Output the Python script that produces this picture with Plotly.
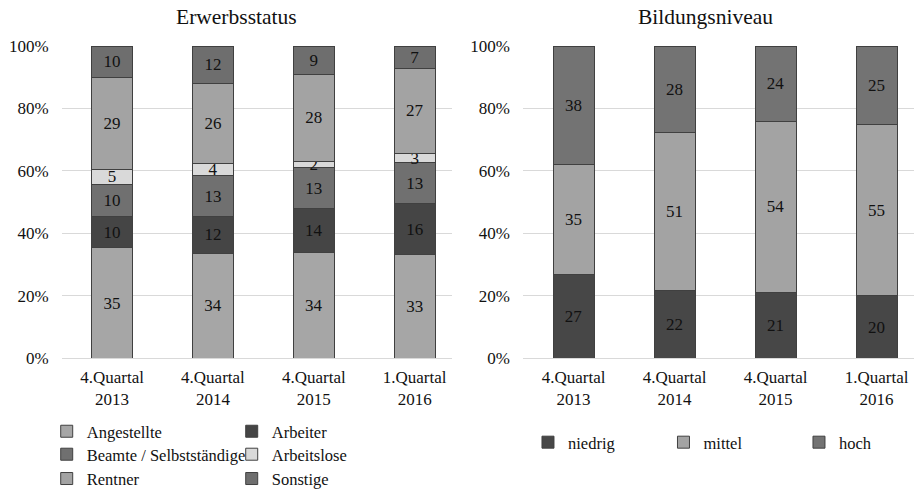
import plotly.graph_objects as go

# Categories (x axis, shared by both panels)
quarters = ["4.Quartal<br>2013", "4.Quartal<br>2014", "4.Quartal<br>2015", "1.Quartal<br>2016"]

# Erwerbsstatus (percent), stacked bottom to top
angestellte = [35, 34, 34, 33]
arbeiter = [10, 12, 14, 16]
beamte = [10, 13, 13, 13]
arbeitslose = [5, 4, 2, 3]
rentner = [29, 26, 28, 27]
sonstige = [10, 12, 9, 7]

# Bildungsniveau (percent), stacked bottom to top
niedrig = [27, 22, 21, 20]
mittel = [35, 51, 54, 55]
hoch = [38, 28, 24, 25]

y_ticks = [0, 20, 40, 60, 80, 100]
y_tick_labels = ["0%", "20%", "40%", "60%", "80%", "100%"]

FONT = "Liberation Serif"
TEXT_COLOR = "#111111"
OUTLINE = "#404040"

# (name, values, fill colour, legend row)
left_series = [
    ("Angestellte", angestellte, "#a6a6a6", "legend"),
    ("Arbeiter", arbeiter, "#454545", "legend"),
    ("Beamte / Selbstständige", beamte, "#707070", "legend3"),
    ("Arbeitslose", arbeitslose, "#d9d9d9", "legend3"),
    ("Rentner", rentner, "#a3a3a3", "legend4"),
    ("Sonstige", sonstige, "#6e6e6e", "legend4"),
]
right_series = [
    ("niedrig", niedrig, "#474747"),
    ("mittel", mittel, "#a3a3a3"),
    ("hoch", hoch, "#737373"),
]

fig = go.Figure()

bar_style = dict(
    texttemplate="%{text}", textposition="inside", insidetextanchor="middle",
    textangle=0, textfont=dict(family=FONT, size=17, color=TEXT_COLOR),
    width=0.405,
)

for name, vals, color, leg in left_series:
    fig.add_trace(go.Bar(
        x=quarters, y=vals, name=name, text=vals,
        marker=dict(color=color, line=dict(color=OUTLINE, width=1)),
        xaxis="x", yaxis="y", legend=leg, **bar_style,
    ))

for name, vals, color in right_series:
    fig.add_trace(go.Bar(
        x=quarters, y=vals, name=name, text=vals,
        marker=dict(color=color, line=dict(color=OUTLINE, width=1)),
        xaxis="x2", yaxis="y2", legend="legend2", **bar_style,
    ))

yaxis_common = dict(
    range=[0, 100], tickvals=y_ticks, ticktext=y_tick_labels,
    showgrid=True, gridcolor="#d9d9d9", gridwidth=1,
    zeroline=False, showline=False, ticks="",
    ticklabelstandoff=12, automargin=False,
    tickfont=dict(family=FONT, size=17, color=TEXT_COLOR),
    domain=[0.27, 0.9063], fixedrange=True,
)
xaxis_common = dict(
    range=[-0.5, 3.37], showgrid=False, zeroline=False,
    showline=True, linecolor="#d9d9d9", linewidth=1, ticks="",
    ticklabelstandoff=3, automargin=False,
    tickfont=dict(family=FONT, size=17, color=TEXT_COLOR),
    fixedrange=True,
)

legend_common = dict(
    orientation="h", xanchor="left", yanchor="top",
    entrywidthmode="pixels", traceorder="normal",
    font=dict(family=FONT, size=16.5, color=TEXT_COLOR),
    bgcolor="rgba(0,0,0,0)", itemclick=False, itemdoubleclick=False,
)

fig.update_layout(
    width=916, height=491,
    margin=dict(l=0, r=0, t=0, b=0, autoexpand=False),
    paper_bgcolor="white", plot_bgcolor="white",
    barmode="stack", barnorm="percent",
    uniformtext=dict(minsize=17, mode="show"),
    font=dict(family=FONT, size=17, color=TEXT_COLOR),
    xaxis=dict(domain=[0.0673, 0.4934], anchor="y", **xaxis_common),
    yaxis=dict(anchor="x", **yaxis_common),
    xaxis2=dict(domain=[0.571, 0.9978], anchor="y2", **xaxis_common),
    yaxis2=dict(anchor="x2", **yaxis_common),
    legend=dict(x=0.0510, y=0.1568, entrywidth=140, **legend_common),
    legend3=dict(x=0.0510, y=0.1100, entrywidth=140, **legend_common),
    legend4=dict(x=0.0510, y=0.0605, entrywidth=140, **legend_common),
    legend2=dict(x=0.5764, y=0.1345, entrywidth=90.5, **legend_common),
    annotations=[
        dict(text="Erwerbsstatus", x=236.5 / 916, y=1 - 17 / 491,
             xref="paper", yref="paper", xanchor="center", yanchor="middle",
             showarrow=False, font=dict(family=FONT, size=21.5, color=TEXT_COLOR)),
        dict(text="Bildungsniveau", x=705.5 / 916, y=1 - 17 / 491,
             xref="paper", yref="paper", xanchor="center", yanchor="middle",
             showarrow=False, font=dict(family=FONT, size=21.5, color=TEXT_COLOR)),
    ],
)

fig.write_html("out.html")
